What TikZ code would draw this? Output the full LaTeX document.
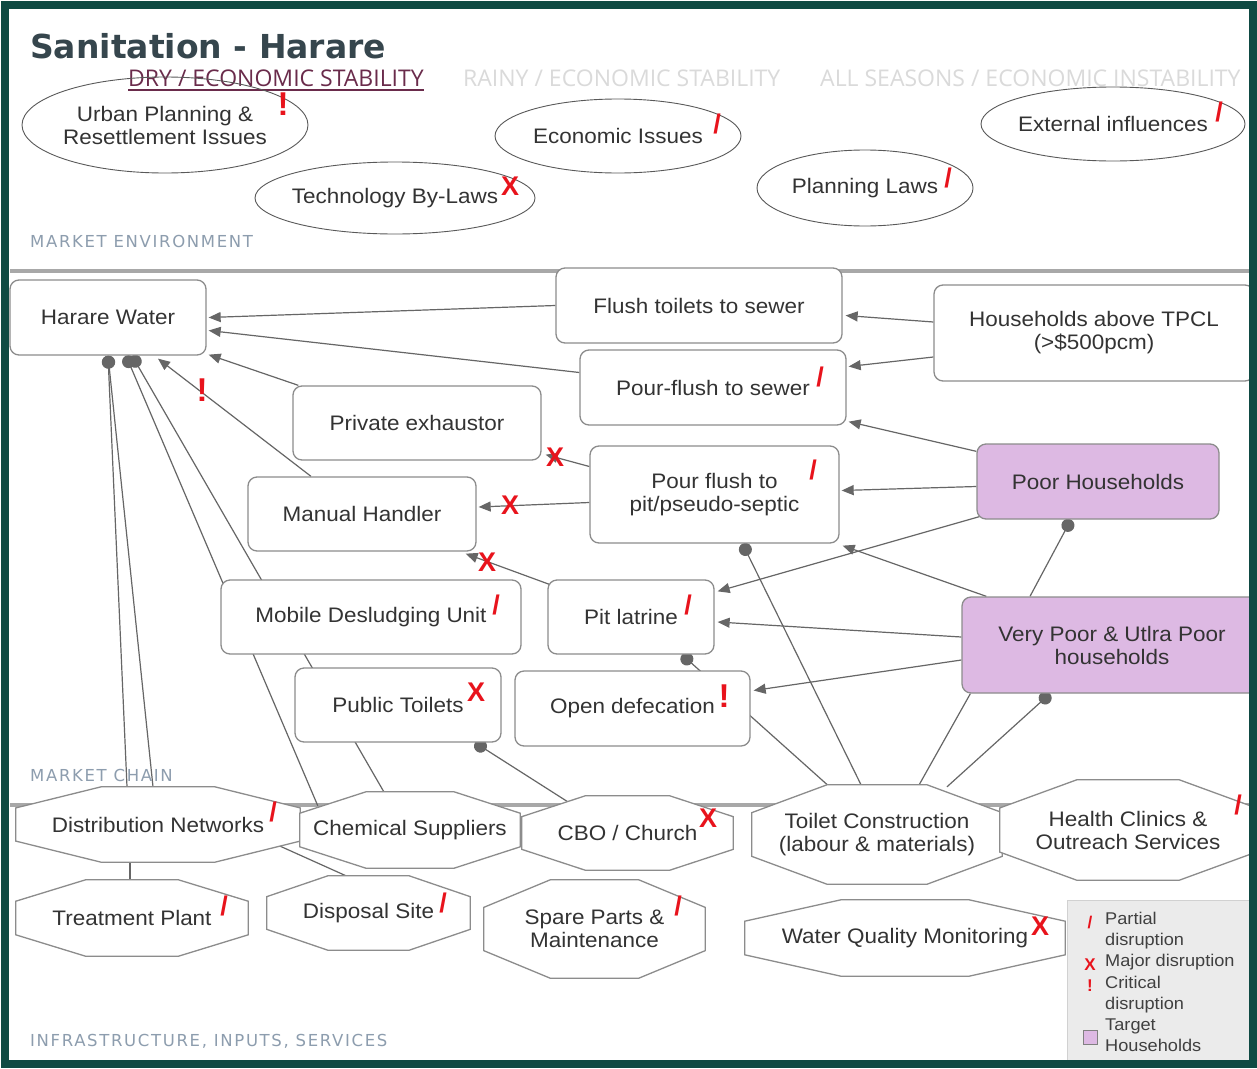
\documentclass[tikz,border=0pt]{standalone}
\usepackage{fontspec}
\setmainfont{Liberation Sans}[FakeStretch=1.07]
\newfontfamily\markfont{Liberation Sans}
\newfontfamily\titlefont{DejaVu Sans}
\newfontfamily\tabfont{Open Sans}[FakeStretch=1.0]
\newfontfamily\secfont{DejaVu Sans}[LetterSpace=10]
\usetikzlibrary{shapes.geometric,arrows.meta,calc}
\definecolor{framec}{HTML}{0F4A43}
\definecolor{edgec}{HTML}{666666}
\definecolor{boxc}{HTML}{8C8C8C}
\definecolor{txt}{HTML}{333333}
\definecolor{mred}{HTML}{E8131C}
\definecolor{purp}{HTML}{DDB9E3}
\definecolor{secc}{HTML}{8D9DAE}
\definecolor{tabc}{HTML}{DADADA}
\definecolor{dryc}{HTML}{6A2B4B}
\definecolor{titlec}{HTML}{36464D}
\definecolor{sepc}{HTML}{A8A8A8}
\pgfdeclarelayer{bg}\pgfdeclarelayer{edges}\pgfdeclarelayer{oct}
\pgfsetlayers{bg,edges,oct,main}
\newcommand\octo[1]{\draw[octline] ($(#1.north west)!0.3!(#1.north east)$) -- ($(#1.north west)!0.7!(#1.north east)$) -- ($(#1.north east)!0.28!(#1.south east)$) -- ($(#1.north east)!0.72!(#1.south east)$) -- ($(#1.south west)!0.7!(#1.south east)$) -- ($(#1.south west)!0.3!(#1.south east)$) -- ($(#1.north west)!0.72!(#1.south west)$) -- ($(#1.north west)!0.28!(#1.south west)$) -- cycle;}
\tikzset{
 every node/.style={text=txt, font=\fontsize{21}{23}\selectfont, align=center, inner sep=0pt},
 env/.style={ellipse, draw=black!65, line width=0.9pt, inner xsep=-30pt, inner ysep=-10pt},
 rbox/.style={rectangle, rounded corners=9pt, draw=boxc, line width=1.3pt, fill=white},
 target/.style={rbox, fill=purp, draw=black!45},
 octn/.style={rectangle},
 octline/.style={draw=boxc, line width=1.3pt, fill=white},
 arr/.style={draw=edgec, line width=1.2pt, -{Triangle[length=12pt,width=10pt]}},
 dotl/.style={draw=edgec, line width=1.2pt, {Circle[length=13pt]}-},
 plain/.style={draw=edgec, line width=1.2pt},
 mk/.style={text=mred, font=\markfont\fontsize{27}{27}\selectfont\bfseries},
 mkb/.style={text=mred, font=\markfont\fontsize{33}{33}\selectfont\bfseries},
 mks/.style={text=mred, font=\markfont\fontsize{17}{17}\selectfont\bfseries},
 sec/.style={text=secc, font=\secfont\fontsize{16.5}{16}\selectfont, anchor=base west},
 tab/.style={font=\tabfont\fontsize{23}{23}\selectfont, anchor=base west},
 sepl/.style={draw=sepc, line width=4pt},
}
\begin{document}
\begin{tikzpicture}[x=1pt,y=-1pt]
\useasboundingbox (0,0) rectangle (1257,1068);
\begin{pgfonlayer}{bg}
\fill[white] (0,0) rectangle (1257,1068);
\draw[sepl] (10,271) -- (1250,271);
\draw[sepl] (10,805) -- (1250,805);
\end{pgfonlayer}

% header
\node[anchor=base west, font=\titlefont\bfseries\fontsize{33}{36}\selectfont, text=titlec] (title) at (30,58) {Sanitation - Harare};
\node[tab, text=dryc] (tab1) at (128,86) {DRY / ECONOMIC STABILITY};
\draw[dryc, line width=1.2pt] ([yshift=-4pt]tab1.base west) -- ([yshift=-4pt]tab1.base east);
\node[tab, text=tabc] (tab2) at (463,86) {RAINY / ECONOMIC STABILITY};
\node[tab, text=tabc] (tab3) at (820,86) {ALL SEASONS / ECONOMIC INSTABILITY};

% market environment
\node[env, minimum width=286pt, minimum height=96pt] (urban) at (165,125) {Urban Planning \&\\Resettlement Issues};
\node[env, minimum width=280pt, minimum height=72pt] (techlaw) at (395,198) {Technology By-Laws};
\node[env, minimum width=246pt, minimum height=74pt] (econ) at (618,136) {Economic Issues};
\node[env, minimum width=216pt, minimum height=76pt] (planlaw) at (865,188) {Planning Laws};
\node[env, minimum width=264pt, minimum height=74pt] (extinf) at (1113,124) {External influences};
\node[sec] (secenv) at (30,247) {MARKET ENVIRONMENT};
\node[sec] (secchain) at (30,781) {MARKET CHAIN};
\node[sec] (secinf) at (30,1046) {INFRASTRUCTURE, INPUTS, SERVICES};

% market chain
\node[rbox, minimum width=196pt, minimum height=75pt] (hw) at (108,317.5) {Harare Water};
\node[rbox, minimum width=286pt, minimum height=75pt] (flush) at (699,305.5) {Flush toilets to sewer};
\node[rbox, minimum width=320pt, minimum height=96pt] (hhtpcl) at (1094,333) {Households above TPCL\\(>\$500pcm)};
\node[rbox, minimum width=266pt, minimum height=75pt] (pfsewer) at (713,387.5) {Pour-flush to sewer};
\node[rbox, minimum width=248pt, minimum height=74pt] (privex) at (417,423) {Private exhaustor};
\node[rbox, minimum width=249pt, minimum height=97pt] (pfpit) at (714.5,494.5) {Pour flush to\\pit/pseudo-septic};
\node[target, minimum width=242pt, minimum height=75pt] (poor) at (1098,481.5) {Poor Households};
\node[rbox, minimum width=228pt, minimum height=74pt] (manual) at (362,514) {Manual Handler};
\node[rbox, minimum width=300pt, minimum height=74pt] (mobile) at (371,617) {Mobile Desludging Unit};
\node[rbox, minimum width=166pt, minimum height=74pt] (pit) at (631,617) {Pit latrine};
\node[target, minimum width=300pt, minimum height=96pt] (vpoor) at (1112,645) {Very Poor \& Utlra Poor\\households};
\node[rbox, minimum width=206pt, minimum height=74pt] (publ) at (398,705) {Public Toilets};
\node[rbox, minimum width=235pt, minimum height=75pt] (opendef) at (632.5,708.5) {Open defecation};

% infrastructure
\node[octn, minimum width=284pt, minimum height=75pt] (distnet) at (158,824.5) {Distribution Networks};
\node[octn, minimum width=220pt, minimum height=76pt] (chem) at (410,830) {Chemical Suppliers};
\node[octn, minimum width=211pt, minimum height=74pt] (cbo) at (627.5,833) {CBO / Church};
\node[octn, minimum width=250pt, minimum height=99pt] (toilet) at (877,834.5) {Toilet Construction\\(labour \& materials)};
\node[octn, minimum width=256pt, minimum height=100pt] (health) at (1128,830) {Health Clinics \&\\Outreach Services};
\node[octn, minimum width=232pt, minimum height=76pt] (treat) at (132,918) {Treatment Plant};
\node[octn, minimum width=203pt, minimum height=74pt] (disposal) at (368.5,913) {Disposal Site};
\node[octn, minimum width=221pt, minimum height=98pt] (spare) at (594.5,929) {Spare Parts \&\\Maintenance};
\node[octn, minimum width=320pt, minimum height=76pt] (wqm) at (905,938) {Water Quality Monitoring};

\begin{pgfonlayer}{oct}
\octo{distnet}\octo{chem}\octo{cbo}\octo{toilet}\octo{health}
\octo{treat}\octo{disposal}\octo{spare}\octo{wqm}
\end{pgfonlayer}

% connectors
\begin{pgfonlayer}{edges}
\draw[arr] (flush.west) -- ([shift={(2,0)}]hw.east);
\draw[arr] ([shift={(0,-15)}]pfsewer.west) -- ([shift={(2,13)}]hw.east);
\draw[arr] ([shift={(6,0)}]privex.north west) -- ([shift={(2,-1)}]hw.south east);
\draw[arr] ([shift={(-51,0)}]manual.north) -- ([shift={(50,3)}]hw.south);
\draw[arr] ([shift={(0,-11)}]hhtpcl.west) -- ([shift={(3,10)}]flush.east);
\draw[arr] ([shift={(0,24)}]hhtpcl.west) -- ([shift={(2,-21)}]pfsewer.east);
\draw[arr] ([shift={(0,8)}]poor.north west) -- ([shift={(2,-4)}]pfsewer.south east);
\draw[arr] ([shift={(0,5)}]poor.west) -- ([shift={(2,-4)}]pfpit.east);
\draw[arr] ([shift={(3,-3)}]poor.south west) -- ([shift={(3,12)}]pit.north east);
\draw[arr] ([shift={(25,0)}]vpoor.north west) -- ([shift={(3,2)}]pfpit.south east);
\draw[arr] ([shift={(0,-8)}]vpoor.west) -- ([shift={(3,5)}]pit.east);
\draw[arr] ([shift={(0,15)}]vpoor.west) -- ([shift={(3,-18)}]opendef.east);
\draw[arr] ([shift={(0,-28)}]pfpit.west) -- ([shift={(4,-6)}]privex.south east);
\draw[arr] ([shift={(0,8)}]pfpit.west) -- ([shift={(2,-7)}]manual.east);
\draw[arr] ([shift={(2,5)}]pit.north west) -- ([shift={(-11,2)}]manual.south east);
\draw[dotl] ([shift={(-27,0)}]poor.south) -- ([shift={(-82,0)}]vpoor.north);
\draw[dotl] (hw.south) -- ([shift={(-31,0)}]distnet.north);
\draw[dotl] (hw.south) -- ([shift={(-5,0)}]distnet.north);
\draw[dotl] ([shift={(18,0)}]hw.south) -- ([shift={(18,14)}]chem.north west);
\draw[dotl] ([shift={(24,0)}]hw.south) -- ([shift={(-25,2)}]chem.north);
\draw[dotl] ([shift={(28,0)}]pfpit.south) -- ([shift={(-15,2)}]toilet.north);
\draw[dotl] ([shift={(51,0)}]pit.south) -- ([shift={(80,4)}]toilet.north west);
\draw[dotl] ([shift={(77,0)}]publ.south) -- ([shift={(46,6)}]cbo.north west);
\draw[dotl] ([shift={(-62,0)}]vpoor.south) -- ([shift={(70,2)}]toilet.north);
\draw[plain] ([shift={(9,0)}]vpoor.south west) -- ([shift={(41,2)}]toilet.north);
\draw[plain] ([shift={(-28,0)}]distnet.south) -- ([shift={(-2,2)}]treat.north);
\draw[plain] ([shift={(-20,-16)}]distnet.south east) -- ([shift={(-18,2)}]disposal.north);
\end{pgfonlayer}

% disruption markers
\node[mkb] (m1) at (283,104) {!};
\node[mk] (m2) at (510,186) {X};
\node[mk] (m3) at (717,124) {/};
\node[mk] (m4) at (948,178) {/};
\node[mk] (m5) at (1219,112) {/};
\node[mk] (m6) at (820,377) {/};
\node[mk] (m7) at (813,470) {/};
\node[mkb] (m8) at (202,390) {!};
\node[mk] (m9) at (555,457) {X};
\node[mk] (m10) at (510,505) {X};
\node[mk] (m11) at (487,562) {X};
\node[mk] (m12) at (496,605) {/};
\node[mk] (m13) at (688,605) {/};
\node[mk] (m14) at (476,692) {X};
\node[mkb] (m15) at (724,696) {!};
\node[mk] (m16) at (273,812) {/};
\node[mk] (m17) at (708,818) {X};
\node[mk] (m18) at (1238,805) {/};
\node[mk] (m19) at (224,906) {/};
\node[mk] (m20) at (443,903) {/};
\node[mk] (m21) at (678,906) {/};
\node[mk] (m22) at (1040,926) {X};

% legend
\node[draw=black!18, fill=black!8, minimum width=187pt, minimum height=166pt] (legend) at (1160.5,983) {};
\node[anchor=north west, align=left, text=black!75, font=\fontsize{17}{21.2}\selectfont] (legtext) at (1105,912) {Partial\\disruption\\Major disruption\\Critical\\disruption\\Target\\Households};
\node[mks] (l1) at (1090,922) {/};
\node[mks] (l2) at (1090,965) {X};
\node[mks] (l3) at (1090,986) {!};
\node[draw=black!50, fill=purp, minimum size=14pt] (l4) at (1090,1037) {};

% frame
\draw[framec, line width=8pt] (5,4.5) rectangle (1252.5,1064);
\end{tikzpicture}
\end{document}
